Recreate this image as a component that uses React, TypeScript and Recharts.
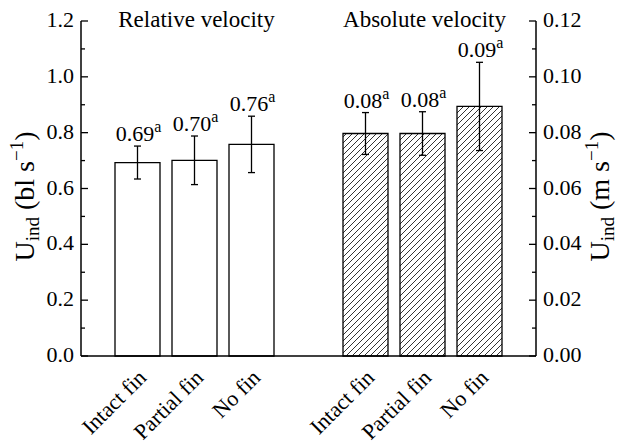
import { BarChart, Bar, XAxis, YAxis, ErrorBar, LabelList } from 'recharts';

const FONT = 'Liberation Serif, Times New Roman, serif';

const fins = ['Intact fin', 'Partial fin', 'No fin'];
const groupTitles = ['Relative velocity', 'Absolute velocity'];

// relative velocity, bl s-1 (left axis)
const relative = [0.693, 0.701, 0.758];
const relativeErr = [0.059, 0.087, 0.101];
const relativeText = ['0.69', '0.70', '0.76'];

// absolute velocity, m s-1 (right axis)
const absolute = [0.0797, 0.0797, 0.0894];
const absoluteErr = [0.0075, 0.0078, 0.0158];
const absoluteText = ['0.08', '0.08', '0.09'];

const letters = ['a', 'a', 'a'];

const leftTicks = [0, 0.1, 0.2, 0.3, 0.4, 0.5, 0.6, 0.7, 0.8, 0.9, 1.0, 1.1, 1.2];
const rightTicks = [0, 0.01, 0.02, 0.03, 0.04, 0.05, 0.06, 0.07, 0.08, 0.09, 0.1, 0.11, 0.12];

const data: any[] = [
  ...fins.map((name, i) => ({
    id: `rel-${i}`,
    name,
    rel: relative[i],
    relErr: relativeErr[i],
    text: relativeText[i],
    sup: letters[i],
    title: i === 1 ? groupTitles[0] : null,
  })),
  { id: 'gap', name: '' },
  ...fins.map((name, i) => ({
    id: `abs-${i}`,
    name,
    abs: absolute[i],
    absErr: absoluteErr[i],
    text: absoluteText[i],
    sup: letters[i],
    title: i === 1 ? groupTitles[1] : null,
  })),
];

const txt = (size: number) => ({ fontFamily: FONT, fontSize: size, fill: '#000' });

const LeftTick = ({ x, y, payload }: any) => {
  const major = Math.round(payload.value * 10) % 2 === 0;
  return (
    <g>
      <line x1={x} x2={x + (major ? 7 : 4)} y1={y} y2={y} stroke="#000" strokeWidth={1.3} />
      {major && (
        <text x={x - 7} y={y + 6} textAnchor="end" style={txt(22)}>
          {payload.value.toFixed(1)}
        </text>
      )}
    </g>
  );
};

const RightTick = ({ x, y, payload }: any) => {
  const major = Math.round(payload.value * 100) % 2 === 0;
  return (
    <g>
      <line x1={x} x2={x - (major ? 7 : 4)} y1={y} y2={y} stroke="#000" strokeWidth={1.3} />
      {major && (
        <text x={x + 7} y={y + 6} textAnchor="start" style={txt(22)}>
          {payload.value.toFixed(2)}
        </text>
      )}
    </g>
  );
};

const FinTick = ({ x, y, payload }: any) => {
  if (!payload.value) return null;
  return (
    <text transform={`translate(${x + 10}, ${y + 23}) rotate(-45)`} textAnchor="end" style={txt(22)}>
      {payload.value}
    </text>
  );
};

// value label above the error bar, plus the group title on the middle bar
const makeLabel = (valueKey: string, errKey: string, max: number) => (props: any) => {
  const vb = props.viewBox || props;
  const row = data.find((d) => d.id === props.value);
  if (!row || row[valueKey] == null) return null;
  const { x, y, width, height } = vb;
  const perUnit = height / row[valueKey];
  const cx = x + width / 2;
  const errTop = y - perUnit * row[errKey];
  const axisTop = y + height - perUnit * max;
  return (
    <g>
      <text x={cx + 1} y={errTop - 5} textAnchor="middle" style={txt(22)}>
        {row.text}
        <tspan dy={-9} style={{ fontSize: 16 }}>
          {row.sup}
        </tspan>
      </text>
      {row.title && (
        <text x={cx + 2} y={axisTop + 6} textAnchor="middle" style={txt(23)}>
          {row.title}
        </text>
      )}
    </g>
  );
};

const axisTitle = (unit: string, side: 'left' | 'right') => (props: any) => {
  const vb = props.viewBox || {};
  const cy = (vb.y ?? 21) + (vb.height ?? 335) / 2 + 8;
  const bx = side === 'left' ? 34 : 609;
  return (
    <text transform={`translate(${bx}, ${cy}) rotate(-90)`} textAnchor="middle" style={txt(28)}>
      U
      <tspan dy={5} style={{ fontSize: 19 }}>
        ind
      </tspan>
      <tspan dy={-5}> ({unit} s</tspan>
      <tspan dy={-11} style={{ fontSize: 19 }}>
        −1
      </tspan>
      <tspan dy={11}>)</tspan>
    </text>
  );
};

export default function App() {
  return (
    <div
      style={{
        position: 'absolute',
        left: 0,
        top: 0,
        width: 620,
        height: 445,
        background: '#fff',
        fontFamily: FONT,
      }}
    >
      <svg width={0} height={0} style={{ position: 'absolute' }}>
        <defs>
          <pattern id="hatch" patternUnits="userSpaceOnUse" width={6} height={6}>
            <path d="M-1,1 l2,-2 M0,6 l6,-6 M5,7 l2,-2" stroke="#000" strokeWidth={0.8} />
          </pattern>
        </defs>
      </svg>
      <BarChart width={620} height={445} data={data} margin={{ top: 21, right: 0, bottom: 0, left: 0 }}>
        <XAxis
          xAxisId="main"
          dataKey="name"
          height={89}
          padding={{ left: 28, right: 28 }}
          axisLine={{ stroke: '#000', strokeWidth: 1.5 }}
          tickLine={false}
          tickSize={0}
          tickMargin={0}
          interval={0}
          tick={<FinTick />}
        />
        <XAxis xAxisId="abs" dataKey="name" hide height={0} padding={{ left: 28, right: 28 }} />
        <YAxis
          yAxisId="left"
          width={81}
          domain={[0, 1.2]}
          ticks={leftTicks}
          interval={0}
          axisLine={{ stroke: '#000', strokeWidth: 1.5 }}
          tickLine={false}
          tickSize={0}
          tickMargin={0}
          tick={<LeftTick />}
          label={{ value: 'left', content: axisTitle('bl', 'left') }}
        />
        <YAxis
          yAxisId="right"
          orientation="right"
          width={84}
          domain={[0, 0.12]}
          ticks={rightTicks}
          interval={0}
          axisLine={{ stroke: '#000', strokeWidth: 1.5 }}
          tickLine={false}
          tickSize={0}
          tickMargin={0}
          tick={<RightTick />}
          label={{ value: 'right', content: axisTitle('m', 'right') }}
        />
        <Bar
          xAxisId="main"
          yAxisId="left"
          dataKey="rel"
          barSize={45}
          fill="#fff"
          stroke="#000"
          strokeWidth={1.3}
          isAnimationActive={false}
        >
          <ErrorBar dataKey="relErr" width={3.5} stroke="#000" strokeWidth={1.3} direction="y" isAnimationActive={false} />
          <LabelList dataKey="id" content={makeLabel('rel', 'relErr', 1.2)} />
        </Bar>
        <Bar
          xAxisId="abs"
          yAxisId="right"
          dataKey="abs"
          barSize={45}
          fill="url(#hatch)"
          stroke="#000"
          strokeWidth={1.3}
          isAnimationActive={false}
        >
          <ErrorBar dataKey="absErr" width={3.5} stroke="#000" strokeWidth={1.3} direction="y" isAnimationActive={false} />
          <LabelList dataKey="id" content={makeLabel('abs', 'absErr', 0.12)} />
        </Bar>
      </BarChart>
    </div>
  );
}
